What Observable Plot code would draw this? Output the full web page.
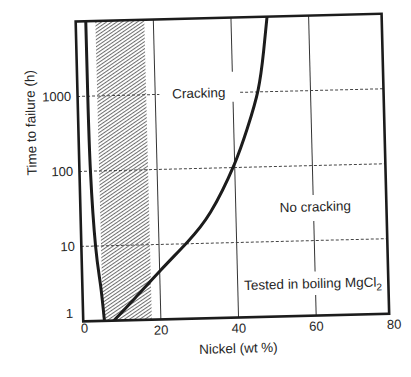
<!DOCTYPE html>
<html>
<head>
<meta charset="utf-8">
<script src="https://cdn.jsdelivr.net/npm/d3@7"></script>
<script src="https://cdn.jsdelivr.net/npm/@observablehq/plot@0.6"></script>
<style>
html, body { margin: 0; padding: 0; background: #fff; }
#chart { position: absolute; left: 0; top: 0; width: 411px; height: 377px; }
#chart svg { transform: rotate(-1.45deg); transform-origin: 231.9px 167.1px; }
</style>
</head>
<body>
<div id="chart"></div>
<script>
// ---- data ----
const xTicks = [0, 20, 40, 60, 80];
const yTicks = [1, 10, 100, 1000];
const xDomain = [0, 78.8];
const yDomain = [1, 10000];

// left (low-Ni) branch of the cracking boundary
const leftNi    = [2.6, 2.63, 2.83, 3.66, 4.69, 5.46];
const leftHours = [10000, 1000, 100, 10, 3, 1];

// right (high-Ni) branch of the cracking boundary
const rightNi    = [7.9, 13.2, 20.2, 27.3, 33.5, 39.8, 43.5, 46.5, 48.2, 49.3];
const rightHours = [1, 1.9, 4.5, 10.5, 26, 107, 330, 1050, 3500, 10000];

// hatched band of commercial stainless steels (Ni wt %)
const hatchFrom = [5.2];
const hatchTo   = [17.8];

// region labels
const regionLabels = ["Cracking", "No cracking", "Tested in boiling MgCl2"];
const labelNi      = [31.2, 60.5, 59.4];
const labelHours   = [1000, 28, 2.65];

const xTitle = "Nickel (wt %)";
const yTitle = "Time to failure (h)";

// grid segments (broken around the labels)
const vGridNi   = [20, 40, 40, 60, 60, 60];
const vGridFrom = [1, 1, 1860, 1, 3.8, 40];
const vGridTo   = [10000, 740, 10000, 1.85, 18, 10000];
const hGridHours = [10, 100, 1000, 1000];
const hGridFrom  = [0, 0, 0, 42];
const hGridTo    = [78.8, 78.8, 21.2, 78.8];

// ---- chart ----
const ink = "#1c1c1c";
const textInk = "#262626";
const idx = n => d3.range(n);

const plot = Plot.plot({
  width: 411,
  height: 377,
  marginLeft: 78.9,
  marginRight: 26.1,
  marginTop: 17.1,
  marginBottom: 59.9,
  x: { domain: xDomain, axis: null },
  y: { type: "log", domain: yDomain, axis: null },
  style: {
    fontFamily: "'Liberation Sans', Arial, Helvetica, sans-serif",
    fontSize: "13px",
    color: textInk,
    background: "#fff",
    overflow: "visible"
  },
  marks: [
    Plot.rect(idx(hatchFrom.length), {
      x1: i => hatchFrom[i], x2: i => hatchTo[i],
      y1: () => yDomain[0], y2: () => yDomain[1],
      fill: "url(#ni-hatch)"
    }),
    Plot.ruleX(idx(vGridNi.length), {
      x: i => vGridNi[i], y1: i => vGridFrom[i], y2: i => vGridTo[i],
      stroke: "#333", strokeWidth: 1
    }),
    Plot.ruleY(idx(hGridHours.length), {
      y: i => hGridHours[i], x1: i => hGridFrom[i], x2: i => hGridTo[i],
      stroke: "#444", strokeWidth: 1, strokeDasharray: "3,2"
    }),
    Plot.line(idx(leftNi.length), {
      x: i => leftNi[i], y: i => leftHours[i],
      curve: "natural", stroke: ink, strokeWidth: 3, clip: true
    }),
    Plot.line(idx(rightNi.length), {
      x: i => rightNi[i], y: i => rightHours[i],
      curve: "natural", stroke: ink, strokeWidth: 3, clip: true
    }),
    Plot.frame({ stroke: ink, strokeWidth: 2.6 }),
    // y tick labels
    Plot.text(yTicks.filter(d => d > 1), {
      x: () => xDomain[0], y: d => d, text: d => String(d),
      textAnchor: "end", dx: -6.4, fill: textInk, fontSize: 13
    }),
    Plot.text(yTicks.filter(d => d === 1), {
      x: () => xDomain[0], y: d => d, text: d => String(d),
      textAnchor: "end", dx: -10, dy: -8, fill: textInk, fontSize: 13
    }),
    // x tick labels
    Plot.text(xTicks.filter(d => d > 0), {
      x: d => d, y: () => yDomain[0], text: d => String(d),
      dy: 11, fill: textInk, fontSize: 13
    }),
    Plot.text(xTicks.filter(d => d === 0), {
      x: d => d, y: () => yDomain[0], text: d => String(d),
      dx: 1, dy: 7, fill: textInk, fontSize: 13
    }),
    // region labels
    Plot.text(idx(regionLabels.length), {
      x: i => labelNi[i], y: i => labelHours[i], text: i => regionLabels[i],
      fill: textInk, fontSize: 13.5
    }),
    // axis titles
    Plot.text([xTitle], {
      frameAnchor: "bottom", text: d => d, dx: 1.4, dy: 35.4,
      fill: textInk, fontSize: 13.5
    }),
    Plot.text([yTitle], {
      frameAnchor: "left", text: d => d, rotate: -90, dx: -47.1, dy: 2.8,
      fill: textInk, fontSize: 13.5
    })
  ]
});

// hatch pattern
const svg = d3.select(plot);
const pat = svg.insert("defs", ":first-child")
  .append("pattern")
  .attr("id", "ni-hatch")
  .attr("patternUnits", "userSpaceOnUse")
  .attr("width", 8)
  .attr("height", 2.9)
  .attr("patternTransform", "rotate(-33)");
pat.append("rect").attr("width", 8).attr("height", 2.9).attr("fill", "#fff");
pat.append("rect").attr("width", 8).attr("height", 1.0).attr("fill", "#6e6e6e");

// subscript in MgCl2
svg.selectAll("text").filter(function () {
  return this.textContent === "Tested in boiling MgCl2";
}).each(function () {
  const t = d3.select(this);
  t.text("Tested in boiling MgCl");
  t.append("tspan").attr("dy", 4).attr("font-size", 10).text("2");
});

document.getElementById("chart").appendChild(plot);
</script>
</body>
</html>
